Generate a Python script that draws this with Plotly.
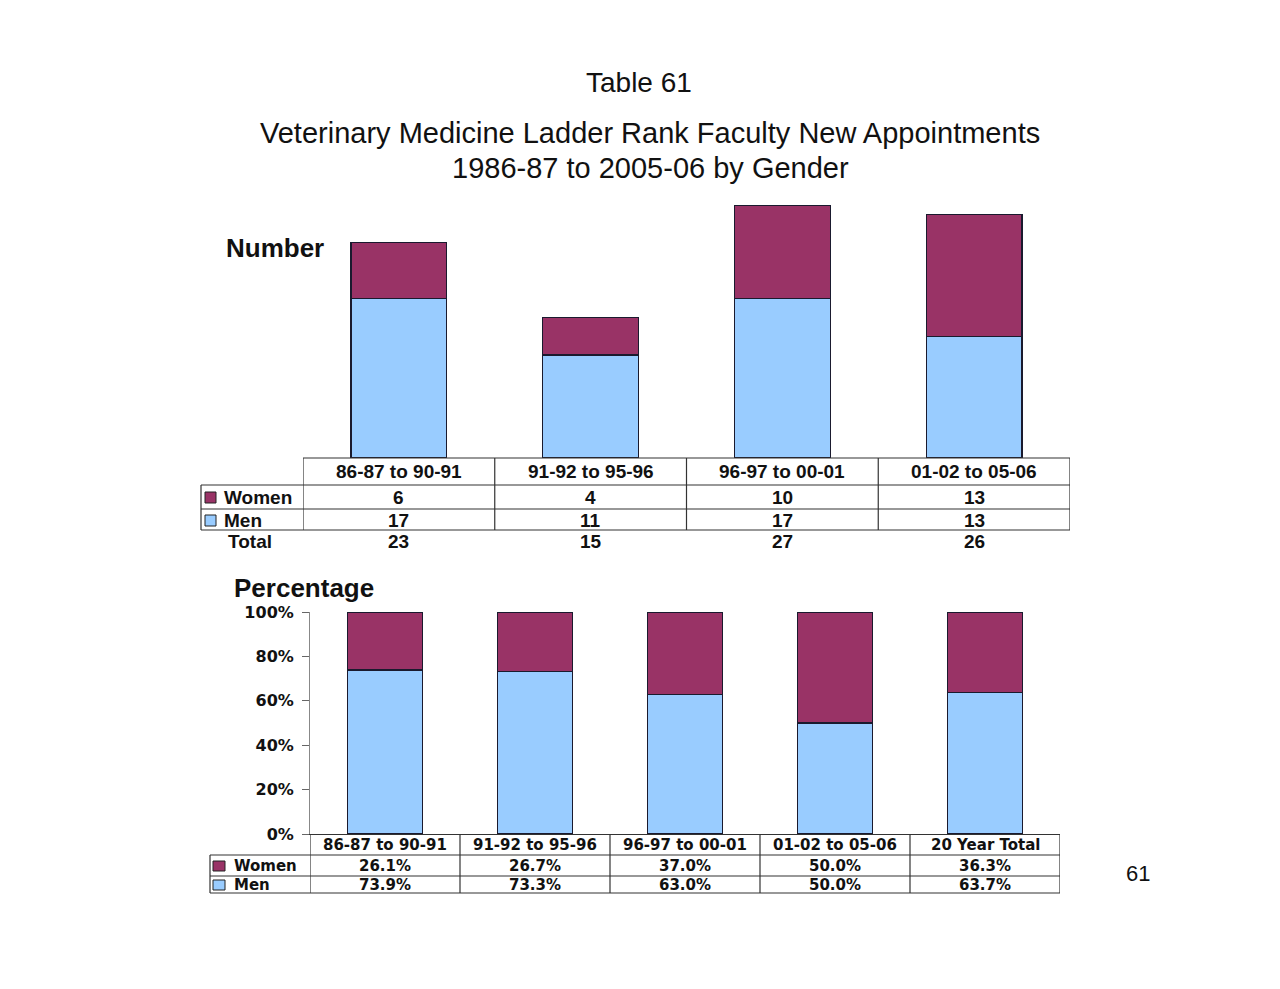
import plotly.graph_objects as go

# ---------------- data ----------------
periods = ["86-87 to 90-91", "91-92 to 95-96", "96-97 to 00-01", "01-02 to 05-06"]
women_num = [6, 4, 10, 13]
men_num = [17, 11, 17, 13]
total_num = [23, 15, 27, 26]

pct_cats = ["86-87 to 90-91", "91-92 to 95-96", "96-97 to 00-01", "01-02 to 05-06", "20 Year Total"]
women_pct = [26.1, 26.7, 37.0, 50.0, 36.3]
men_pct = [73.9, 73.3, 63.0, 50.0, 63.7]
pct_ticks = [0, 20, 40, 60, 80, 100]

WOMEN_C = "#993366"
MEN_C = "#99CCFF"

# page has an 8px body margin; size the figure so it fits the window
OFF = 8
W, H = 1280 - 2 * OFF, 989 - 2 * OFF
def X(px):
    return (px - OFF) / W
def Y(py):
    return 1 - (py - OFF) / H

fig = go.Figure()
edge = dict(color="#1a1a2e", width=1.2)
fig.add_trace(go.Bar(x=periods, y=men_num, name="Men", marker=dict(color=MEN_C, line=edge), xaxis="x", yaxis="y"))
fig.add_trace(go.Bar(x=periods, y=women_num, name="Women", marker=dict(color=WOMEN_C, line=edge), xaxis="x", yaxis="y"))
fig.add_trace(go.Bar(x=pct_cats, y=men_pct, name="Men", marker=dict(color=MEN_C, line=edge), xaxis="x2", yaxis="y2"))
fig.add_trace(go.Bar(x=pct_cats, y=women_pct, name="Women", marker=dict(color=WOMEN_C, line=edge), xaxis="x2", yaxis="y2"))

shapes = []
ann = []
LC = dict(color="#333", width=1.2)

def hline(x0, x1, py, xref="paper"):
    shapes.append(dict(type="line", xref=xref, yref="paper", x0=x0, x1=x1, y0=Y(py), y1=Y(py), line=LC))

def vline(x, py0, py1, xref="paper"):
    shapes.append(dict(type="line", xref=xref, yref="paper", x0=x, x1=x, y0=Y(py0), y1=Y(py1), line=LC))

def text(x, py, s, font, xref="paper", xanchor="center"):
    ann.append(dict(x=x, xref=xref, y=Y(py), yref="paper", text=s, showarrow=False,
                    xanchor=xanchor, yanchor="middle", font=font))

SANS = "Liberation Sans, Arial, sans-serif"
WIDE = "DejaVu Sans, Verdana, sans-serif"

# ---------- top table ----------
n = len(periods)
hline(-0.5, n - 0.5, 458, xref="x")
for py in (485, 509, 530):
    hline(X(201), X(1070), py)
for i in range(n + 1):
    vline(i - 0.5, 458, 530, xref="x")
vline(X(201), 485, 530)
for (y0, y1), col in (((492, 503), WOMEN_C), ((515, 526), MEN_C)):
    shapes.append(dict(type="rect", xref="paper", yref="paper", x0=X(205), x1=X(216), y0=Y(y1), y1=Y(y0),
                       fillcolor=col, line=dict(color="#222", width=1)))
tfont = dict(family=SANS, size=19, color="#111")
for i, c in enumerate(periods):
    text(c, 471, f"<b>{c}</b>", tfont, xref="x")
    text(c, 497, f"<b>{women_num[i]}</b>", tfont, xref="x")
    text(c, 520, f"<b>{men_num[i]}</b>", tfont, xref="x")
    text(c, 541, f"<b>{total_num[i]}</b>", tfont, xref="x")
text(X(222), 497, "<b>Women</b>", tfont, xanchor="left")
text(X(222), 520, "<b>Men</b>", tfont, xanchor="left")
text(X(226), 541, "<b>Total</b>", tfont, xanchor="left")

# ---------- bottom table ----------
m = len(pct_cats)
for py in (855, 876, 893):
    hline(X(210), X(1060), py)
for i in range(m + 1):
    vline(i - 0.5, 834, 893, xref="x2")
vline(X(210), 855, 893)
for (y0, y1), col in (((861, 871), WOMEN_C), ((880, 890), MEN_C)):
    shapes.append(dict(type="rect", xref="paper", yref="paper", x0=X(213), x1=X(225), y0=Y(y1), y1=Y(y0),
                       fillcolor=col, line=dict(color="#222", width=1)))
bfont = dict(family=WIDE, size=15, color="#111")
for i, c in enumerate(pct_cats):
    text(c, 845, f"<b>{c}</b>", bfont, xref="x2")
    text(c, 866, f"<b>{women_pct[i]:.1f}%</b>", bfont, xref="x2")
    text(c, 885, f"<b>{men_pct[i]:.1f}%</b>", bfont, xref="x2")
text(X(232), 866, "<b>Women</b>", bfont, xanchor="left")
text(X(232), 885, "<b>Men</b>", bfont, xanchor="left")

# ---------- titles ----------
text(X(639), 82, "Table 61", dict(family=SANS, size=28, color="#111"))
text(X(650), 133, "Veterinary Medicine Ladder Rank Faculty New Appointments", dict(family=SANS, size=29, color="#111"))
text(X(650), 168, "1986-87 to 2005-06 by Gender", dict(family=SANS, size=29, color="#111"))
text(X(224), 248, "<b>Number</b>", dict(family=SANS, size=26, color="#111"), xanchor="left")
text(X(232), 588, "<b>Percentage</b>", dict(family=SANS, size=26, color="#111"), xanchor="left")
text(X(1138), 873, "61", dict(family=SANS, size=22, color="#111"))

fig.update_layout(
    template="none",
    width=W, height=H,
    margin=dict(l=0, r=0, t=0, b=0, pad=0, autoexpand=False),
    paper_bgcolor="white", plot_bgcolor="white",
    barmode="stack", bargap=0.5, showlegend=False,
    xaxis=dict(domain=[X(303), X(1070)], range=[-0.5, n - 0.5], showticklabels=False, ticks="",
               showline=False, showgrid=False, zeroline=False, fixedrange=True, automargin=False),
    yaxis=dict(domain=[Y(458), Y(205)], range=[0, 27], visible=False, fixedrange=True, automargin=False),
    xaxis2=dict(domain=[X(310), X(1060)], range=[-0.5, m - 0.5], anchor="y2", showticklabels=False, ticks="",
                showline=True, linecolor="#333", linewidth=1.2, showgrid=False, zeroline=False,
                fixedrange=True, automargin=False),
    yaxis2=dict(domain=[Y(834), Y(612)], range=[0, 100], anchor="x2", tickmode="array", tickvals=pct_ticks,
                ticktext=[f"<b>{v}%</b>" for v in pct_ticks],
                ticks="outside", ticklen=7, tickcolor="#666", showline=True, linecolor="#888", linewidth=1,
                showgrid=False, zeroline=False, tickfont=dict(family=WIDE, size=16, color="#111"),
                ticklabelstandoff=5,
                fixedrange=True, automargin=False),
    shapes=shapes, annotations=ann,
)

fig.write_html("out.html")
